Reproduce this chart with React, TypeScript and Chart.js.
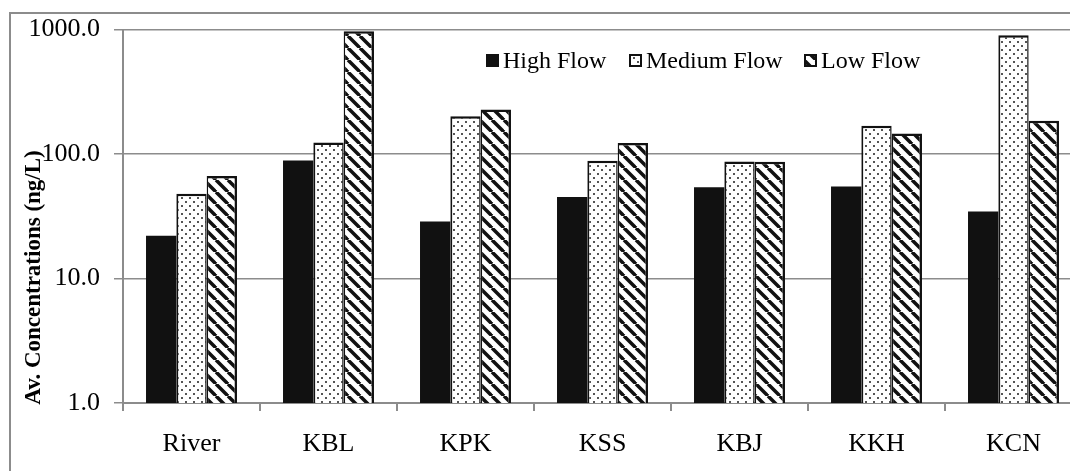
import React, { useEffect, useRef } from "react";
import { Chart, registerables } from "chart.js";

Chart.register(...registerables);

const categories = ["River", "KBL", "KPK", "KSS", "KBJ", "KKH", "KCN"];
const highFlow = [22.1, 88.9, 28.7, 45.1, 54.0, 55.0, 34.5];
const mediumFlow = [48.0, 124, 201, 88.4, 87.3, 169, 900];
const lowFlow = [66.5, 968, 228, 123, 86.8, 146, 185];
const seriesNames = ["High Flow", "Medium Flow", "Low Flow"];
const yTicks = [1, 10, 100, 1000];
const yTitle = "Av. Concentrations (ng/L)";

const FONT = '"Liberation Serif", "Times New Roman", serif';
const GRAY = "#8c8c8c";

function makeDots(): CanvasPattern | string {
  const c = document.createElement("canvas");
  c.width = 8;
  c.height = 8;
  const g = c.getContext("2d");
  if (!g) return "#fff";
  g.fillStyle = "#fff";
  g.fillRect(0, 0, 8, 8);
  g.fillStyle = "#555";
  g.fillRect(1, 1, 2, 2);
  g.fillRect(5, 5, 2, 2);
  return g.createPattern(c, "repeat") || "#fff";
}

function makeStripes(): CanvasPattern | string {
  const s = 12;
  const c = document.createElement("canvas");
  c.width = s;
  c.height = s;
  const g = c.getContext("2d");
  if (!g) return "#fff";
  g.fillStyle = "#fff";
  g.fillRect(0, 0, s, s);
  g.strokeStyle = "#111";
  g.lineWidth = 3.5;
  for (const k of [-s, 0, s]) {
    g.beginPath();
    g.moveTo(k, 0);
    g.lineTo(k + s, s);
    g.stroke();
  }
  return g.createPattern(c, "repeat") || "#fff";
}

export default function App() {
  const ref = useRef<HTMLCanvasElement | null>(null);

  useEffect(() => {
    const canvas = ref.current;
    if (!canvas) return;
    const dots = makeDots();
    const stripes = makeStripes();
    const fills: any[] = ["#111", dots, stripes];

    const framePlugin = {
      id: "frame",
      beforeDraw(chart: any) {
        const ctx = chart.ctx;
        ctx.save();
        ctx.fillStyle = "#fff";
        ctx.fillRect(0, 0, chart.width, chart.height);
        ctx.strokeStyle = GRAY;
        ctx.lineWidth = 2;
        ctx.beginPath();
        ctx.moveTo(10, chart.height + 5);
        ctx.lineTo(10, 13);
        ctx.lineTo(chart.width + 5, 13);
        ctx.stroke();
        ctx.restore();
      },
      afterDraw(chart: any) {
        const ctx = chart.ctx;
        ctx.save();
        // y-axis title
        ctx.translate(40, 277.5);
        ctx.rotate(-Math.PI / 2);
        ctx.font = `bold 23px ${FONT}`;
        ctx.fillStyle = "#000";
        ctx.textAlign = "center";
        ctx.textBaseline = "alphabetic";
        ctx.fillText(yTitle, 0, 0);
        ctx.restore();

        // legend
        ctx.save();
        const boxX = [486, 629, 804];
        ctx.font = `24px ${FONT}`;
        ctx.textBaseline = "alphabetic";
        ctx.textAlign = "left";
        seriesNames.forEach((name, i) => {
          const x = boxX[i];
          const y = 54;
          const sz = 13;
          ctx.fillStyle = fills[i];
          ctx.fillRect(x, y, sz, sz);
          ctx.strokeStyle = "#111";
          ctx.lineWidth = 2;
          ctx.strokeRect(x + 1, y + 1, sz - 2, sz - 2);
          ctx.fillStyle = "#000";
          ctx.fillText(name, x + 17, 68);
        });
        ctx.restore();
      },
    };

    const chart = new Chart(canvas, {
      type: "bar",
      data: {
        labels: categories,
        datasets: [
          {
            label: seriesNames[0],
            data: highFlow,
            backgroundColor: fills[0],
            borderWidth: 0,
          },
          {
            label: seriesNames[1],
            data: mediumFlow,
            backgroundColor: fills[1],
            borderColor: "#111",
            borderWidth: { top: 2.5, left: 2, right: 1.5, bottom: 0 } as any,
          },
          {
            label: seriesNames[2],
            data: lowFlow,
            backgroundColor: fills[2],
            borderColor: "#111",
            borderWidth: { top: 2.5, left: 1.5, right: 2.5, bottom: 0 } as any,
          },
        ],
      },
      options: {
        responsive: false,
        animation: false,
        devicePixelRatio: 1,
        layout: { padding: { top: 29, left: 0, right: 0, bottom: 0 } },
        datasets: { bar: { categoryPercentage: 0.664, barPercentage: 1 } },
        plugins: { legend: { display: false }, tooltip: { enabled: false } },
        scales: {
          x: {
            offset: true,
            grid: {
              display: true,
              drawOnChartArea: false,
              drawTicks: true,
              tickLength: 8,
              color: GRAY,
              lineWidth: 2,
              offset: true,
            },
            border: { display: true, color: GRAY, width: 2 },
            ticks: {
              font: { family: FONT, size: 26 },
              color: "#000",
              padding: 18,
              maxRotation: 0,
              autoSkip: false,
            },
            afterFit: (s: any) => {
              s.height = 77;
            },
          },
          y: {
            type: "logarithmic",
            min: 1,
            max: 1000,
            afterBuildTicks: (s: any) => {
              s.ticks = yTicks.map((v) => ({ value: v }));
            },
            ticks: {
              callback: (v: any) => Number(v).toFixed(1),
              font: { family: FONT, size: 26 },
              color: "#000",
              padding: 14,
            },
            grid: { color: GRAY, lineWidth: 1.5, tickLength: 9 },
            border: { display: true, color: GRAY, width: 2 },
            afterFit: (s: any) => {
              s.width = 123;
            },
          },
        },
      },
      plugins: [framePlugin],
    });

    return () => chart.destroy();
  }, []);

  return (
    <div
      style={{
        position: "fixed",
        left: 0,
        top: 0,
        width: "100vw",
        height: "100vh",
        overflow: "hidden",
        background: "#fff",
      }}
    >
      <canvas ref={ref} width={1082} height={480} style={{ display: "block" }} />
    </div>
  );
}
